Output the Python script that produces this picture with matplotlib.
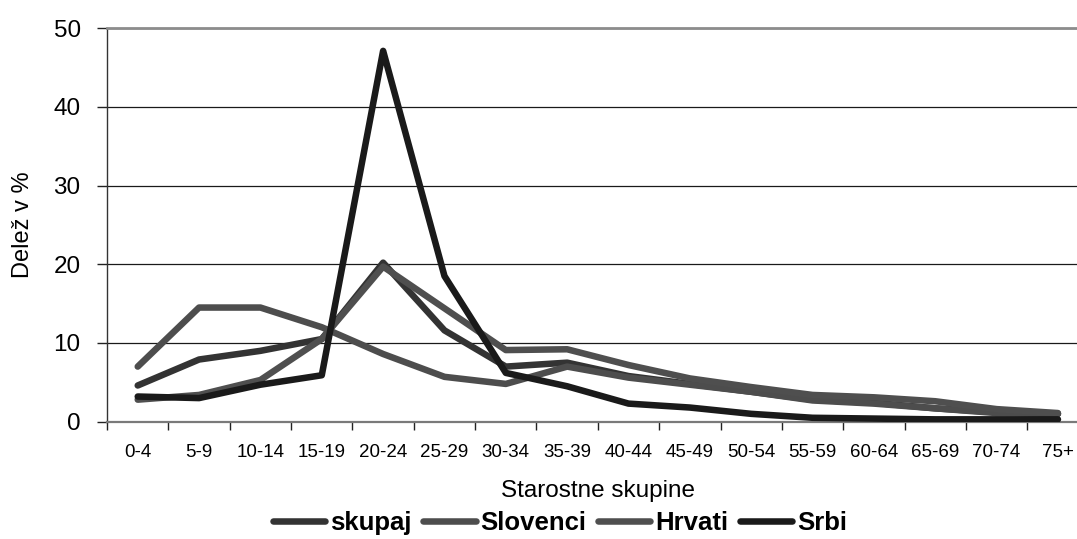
import matplotlib
matplotlib.use('Agg')
import matplotlib.pyplot as plt
import numpy as np

plt.rcParams['font.family'] = ['Liberation Sans', 'DejaVu Sans']

# Age groups and shares (%)
age_groups = ['0-4', '5-9', '10-14', '15-19', '20-24', '25-29', '30-34', '35-39',
              '40-44', '45-49', '50-54', '55-59', '60-64', '65-69', '70-74', '75+']
skupaj = [4.6, 7.9, 9.0, 10.5, 20.2, 11.6, 7.0, 7.5, 5.8, 4.8, 3.8, 2.8, 2.4, 1.7, 1.2, 1.0]
slovenci = [7.0, 14.5, 14.5, 12.0, 8.6, 5.7, 4.8, 7.0, 5.6, 4.7, 3.8, 2.7, 2.3, 1.7, 1.1, 1.0]
hrvati = [2.8, 3.4, 5.3, 10.5, 19.7, 14.4, 9.1, 9.2, 7.2, 5.5, 4.4, 3.4, 3.1, 2.6, 1.6, 1.1]
srbi = [3.2, 3.0, 4.7, 5.9, 47.1, 18.5, 6.2, 4.5, 2.3, 1.8, 1.0, 0.5, 0.4, 0.3, 0.3, 0.3]

series = [('skupaj', skupaj, '#333333'),
          ('Slovenci', slovenci, '#4d4d4d'),
          ('Hrvati', hrvati, '#4f4f4f'),
          ('Srbi', srbi, '#1a1a1a')]

fig = plt.figure(figsize=(10.77, 5.39), dpi=100)
ax = fig.add_axes([0.0994, 0.2176, 0.9114, 0.7304])

x = np.arange(len(age_groups))
for name, vals, col in series:
    ax.plot(x, vals, color=col, lw=4.7, label=name,
            solid_capstyle='round', solid_joinstyle='round', zorder=3)

ax.set_xlim(-0.5, len(age_groups) - 0.5)
ax.set_ylim(0, 50)
ax.set_yticks([0, 10, 20, 30, 40, 50])
ax.yaxis.grid(True, color='#1a1a1a', lw=0.9)
ax.set_axisbelow(True)

ax.set_xticks(x)
ax.set_xticklabels(age_groups, fontsize=13.5)
ax.set_xticks(np.arange(len(age_groups) + 1) - 0.5, minor=True)
ax.tick_params(axis='x', which='major', length=0, pad=16)
ax.tick_params(axis='x', which='minor', length=6, width=1, color='#222222')
ax.tick_params(axis='y', length=7, width=1, color='#222222', pad=12, labelsize=17.5)

ax.spines['top'].set_color('#8c8c8c')
ax.spines['top'].set_linewidth(2)
ax.spines['bottom'].set_color('#7a7a7a')
ax.spines['bottom'].set_linewidth(1.6)
ax.spines['left'].set_color('#333333')
ax.spines['left'].set_linewidth(1)
ax.spines['right'].set_visible(False)

ax.set_ylabel('Delež v %', fontsize=17, labelpad=14)
ax.set_xlabel('Starostne skupine', fontsize=17.5, labelpad=14)

fig.legend(loc='center', bbox_to_anchor=(0.52, 0.03), ncol=4, frameon=False,
           prop={'weight': 'bold', 'size': 18.5}, handlelength=2.05,
           handletextpad=0.2, columnspacing=0.43, borderaxespad=0)

fig.savefig('out.png', dpi=100)
